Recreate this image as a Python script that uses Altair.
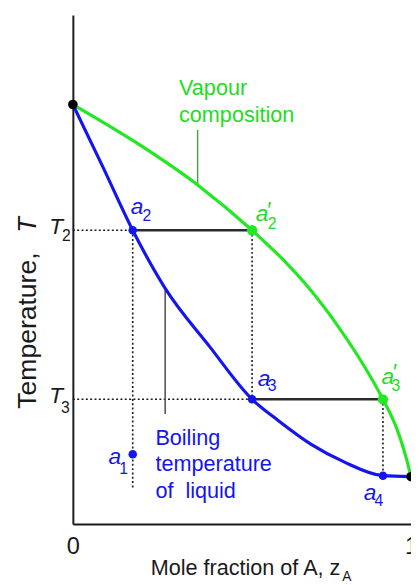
import altair as alt
import pandas as pd

FONT = "Liberation Sans"
BLUE = "#1414f0"
GREEN = "#22e822"
GREEN_TXT = "#1fdc1f"
BLACK = "#1a1a1a"

# ---- curves (mole fraction of A, temperature in arbitrary units) ----
liquid_x = [0.0, 0.089, 0.177, 0.273, 0.404, 0.53, 0.608, 0.706, 0.802, 0.917, 1.0]
liquid_T = [82.4, 70.1, 57.7, 46.3, 34.9, 24.5, 20.3, 15.6, 12.2, 9.5, 9.3]

vapour_x = [0.0, 0.183, 0.369, 0.53, 0.61, 0.70, 0.79, 0.86, 0.917, 0.96, 0.985, 1.0]
vapour_T = [82.4, 75.1, 66.6, 57.7, 52.7, 46.2, 38.3, 31.2, 24.5, 18.4, 13.2, 9.3]

# ---- key temperatures / compositions ----
T2 = 57.7
T3 = 24.5
T_a1 = 13.7
T_a4 = 9.5
x_a2 = 0.177
x_a3 = 0.53
x_a4 = 0.917

# ---- points ----
pt_black_x = [0.0, 1.0]
pt_black_T = [82.4, 9.3]
pt_blue_x = [x_a2, x_a3, x_a4, x_a2]
pt_blue_T = [T2, T3, T_a4, T_a1]
pt_green_x = [x_a3, x_a4]
pt_green_T = [T2, T3]

# ---- segments ----
tie_x = [x_a2, x_a3]
tie_x2 = [x_a3, x_a4]
tie_T = [T2, T3]

dot_x = [0.0, 0.0, x_a2, x_a3, x_a4]
dot_x2 = [x_a2, x_a3, x_a2, x_a3, x_a4]
dot_T = [T2, T3, T2, T2, T3]
dot_T2 = [T2, T3, 7.1, T3, T_a4]

ptr_green_x = [0.369]
ptr_green_T = [66.6]
ptr_green_T2 = [77.4]
ptr_grey_x = [0.273]
ptr_grey_T = [46.3]
ptr_grey_T2 = [21.6]

# ---- texts ----
green_lbl = ["Vapour", "composition"]
green_lbl_x = [0.314, 0.314]
green_lbl_T = [84.2, 79.0]

blue_lbl = ["Boiling", "temperature", "of\u00a0 liquid"]
blue_lbl_x = [0.244, 0.244, 0.244]
blue_lbl_T = [15.6, 10.4, 5.2]

a_blue_x = [0.1715, 0.547, 0.860, 0.105]
a_blue_T = [60.8, 27.2, 4.8, 11.8]
sub_blue = ["2", "3", "4", "1"]
sub_blue_x = [0.206, 0.576, 0.892, 0.137]
sub_blue_T = [59.5, 26.1, 3.5, 9.8]

a_green_x = [0.541, 0.913]
a_green_T = [59.5, 27.6]
prime_green_x = [0.572, 0.944]
prime_green_T = [60.4, 28.4]
sub_green = ["2", "3"]
sub_green_x = [0.576, 0.942]
sub_green_T = [57.9, 26.1]

tlab_x = [-0.070, -0.070]
tlab_T = [57.0, 23.7]
tsub = ["2", "3"]
tsub_x = [-0.032, -0.035]
tsub_T = [55.6, 21.8]

xtitle = ["Mole fraction of A, z"]
xtitle_x = [0.230]
xtitle_T = [-10.0]
xsub = ["A"]
xsub_x = [0.797]
xsub_T = [-11.2]

ytitle = ["Temperature,"]
ytitle_x = [-0.110]
ytitle_T = [38.0]
ytitle_T_x = [-0.110]
ytitle_T_T = [57.2]

xscale = alt.Scale(domain=[0, 1], nice=False, zero=False)
yscale = alt.Scale(domain=[0, 100], nice=False, zero=False)
xaxis = alt.Axis(values=[0, 1], format="d", title=None, grid=False, ticks=False,
                 labelFontSize=24, labelFont=FONT, labelColor=BLACK, labelPadding=11,
                 labelFlush=False, domainColor=BLACK, domainWidth=2)
yaxis = alt.Axis(values=[], title=None, grid=False, ticks=False, labels=False,
                 domainColor=BLACK, domainWidth=2)


def enc_xy(ch):
    return ch.encode(
        x=alt.X("x:Q", scale=xscale, axis=xaxis),
        y=alt.Y("T:Q", scale=yscale, axis=yaxis),
    )


def df(**cols):
    return pd.DataFrame(cols)


layers = []


def rule_layer(d, **kw):
    return alt.Chart(d).mark_rule(**kw).encode(
        x=alt.X("x:Q", scale=xscale, axis=xaxis),
        x2="x2:Q",
        y=alt.Y("T:Q", scale=yscale, axis=yaxis),
        y2="T2:Q",
    )

layers.append(rule_layer(df(x=dot_x, x2=dot_x2, T=dot_T, T2=dot_T2),
                         color=BLACK, strokeWidth=1.6, strokeDash=[2, 2.4]))
layers.append(rule_layer(df(x=tie_x, x2=tie_x2, T=tie_T, T2=tie_T),
                         color="#2b2b2b", strokeWidth=2.4))
layers.append(rule_layer(df(x=ptr_green_x, x2=ptr_green_x, T=ptr_green_T, T2=ptr_green_T2),
                         color="#3aa83a", strokeWidth=1.4))
layers.append(rule_layer(df(x=ptr_grey_x, x2=ptr_grey_x, T=ptr_grey_T, T2=ptr_grey_T2),
                         color="#555555", strokeWidth=1.6))

# curves
layers.append(enc_xy(alt.Chart(df(x=vapour_x, T=vapour_T)).mark_line(
    color=GREEN, strokeWidth=3.2, interpolate="monotone")))
layers.append(enc_xy(alt.Chart(df(x=liquid_x, T=liquid_T)).mark_line(
    color=BLUE, strokeWidth=3.2, interpolate="monotone")))

# points
layers.append(enc_xy(alt.Chart(df(x=pt_blue_x, T=pt_blue_T)).mark_circle(
    color=BLUE, size=75, opacity=1)))
layers.append(enc_xy(alt.Chart(df(x=pt_green_x, T=pt_green_T)).mark_circle(
    color=GREEN, size=110, opacity=1)))
layers.append(enc_xy(alt.Chart(df(x=pt_black_x, T=pt_black_T)).mark_circle(
    color="#000000", size=95, opacity=1)))


def text_layer(labels, xs, ts, **kw):
    d = df(x=xs, T=ts, label=labels)
    base = dict(align="left", baseline="alphabetic", font=FONT)
    base.update(kw)
    return alt.Chart(d).mark_text(**base).encode(
        x=alt.X("x:Q", scale=xscale, axis=xaxis),
        y=alt.Y("T:Q", scale=yscale, axis=yaxis),
        text="label:N",
    )

layers.append(text_layer(green_lbl, green_lbl_x, green_lbl_T, color=GREEN_TXT, fontSize=22))
layers.append(text_layer(blue_lbl, blue_lbl_x, blue_lbl_T, color=BLUE, fontSize=22))

layers.append(text_layer(["a"] * 4, a_blue_x, a_blue_T, color=BLUE, fontSize=23, fontStyle="italic"))
layers.append(text_layer(sub_blue, sub_blue_x, sub_blue_T, color=BLUE, fontSize=16))
layers.append(text_layer(["a"] * 2, a_green_x, a_green_T, color=GREEN_TXT, fontSize=23, fontStyle="italic"))
layers.append(text_layer(["\u2032"] * 2, prime_green_x, prime_green_T, color=GREEN_TXT,
                         fontSize=22, fontStyle="italic"))
layers.append(text_layer(sub_green, sub_green_x, sub_green_T, color=GREEN_TXT, fontSize=16))

layers.append(text_layer(["T", "T"], tlab_x, tlab_T, color=BLACK, fontSize=23, fontStyle="italic"))
layers.append(text_layer(tsub, tsub_x, tsub_T, color=BLACK, fontSize=16))

layers.append(text_layer(xtitle, xtitle_x, xtitle_T, color=BLACK, fontSize=22))
layers.append(text_layer(xsub, xsub_x, xsub_T, color=BLACK, fontSize=14))

layers.append(text_layer(ytitle, ytitle_x, ytitle_T, color=BLACK, fontSize=27,
                         angle=270, align="center"))
layers.append(text_layer(["T"], ytitle_T_x, ytitle_T_T, color=BLACK, fontSize=26,
                         angle=270, fontStyle="italic"))

chart = alt.layer(*layers).properties(
    width=344,
    height=518,
    autosize=alt.AutoSizeParams(type="none"),
    padding={"left": 66, "top": 2, "right": 0, "bottom": 57},
    background="white",
).configure_view(stroke=None)

chart.save("out.html", embed_options={"renderer": "svg", "actions": False})
